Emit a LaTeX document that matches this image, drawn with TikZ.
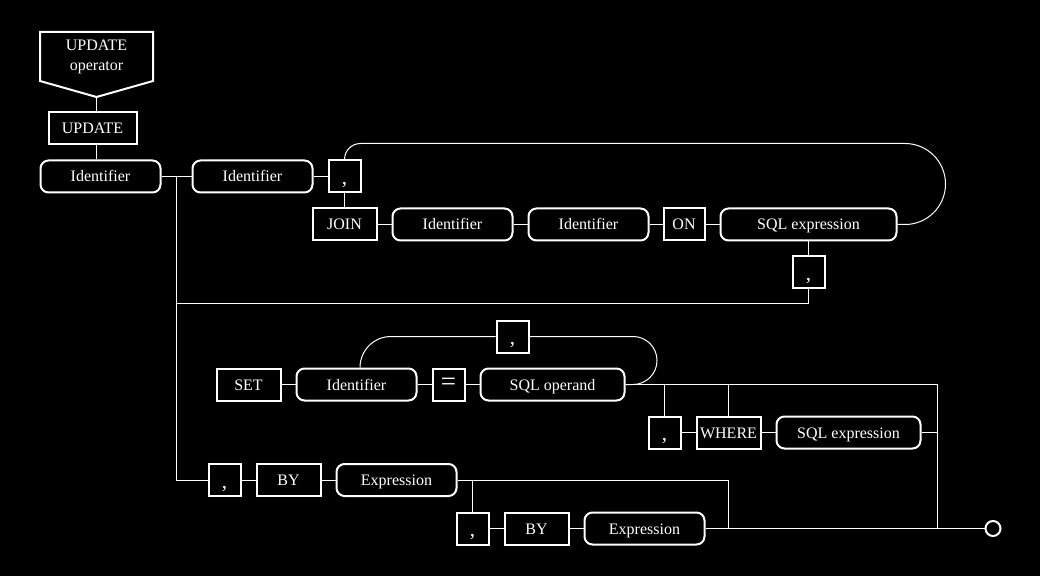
\documentclass[tikz,border=0pt]{standalone}
\usepackage{fontspec}
\setmainfont{Liberation Serif}
\usetikzlibrary{positioning}

\begin{document}
\begin{tikzpicture}[x=1pt, y=1pt, font=\fontsize{16}{20}\selectfont, every node/.style={text=white}, keyword/.style={rectangle, draw=white, line width=2pt, minimum height=32pt, inner sep=0pt, text height=13pt, text depth=2pt}, rule/.style={keyword, rounded corners=8pt}, punct/.style={keyword, minimum width=32pt, text height=16pt, text depth=0pt, font=\fontsize{21}{21}\selectfont}, line/.style={white, line width=1pt}]
\useasboundingbox (0,0) rectangle (1040,576);
\fill [black] (0,0) rectangle (1040,576);
\draw [white, line width=2pt] (40,544) -- (153,544) -- (153,495) -- (96.5,479) -- (40,495) -- cycle;
\node (start) [align=center] at (96.5,519) {UPDATE\\operator};
\coordinate (starttip) at (96.5,479);
\node (update) [keyword, minimum width=88pt] at (92.5,447.5) {UPDATE};
\node (id1) [rule, minimum width=120pt] at (100.5,399.5) {Identifier};
\node (id2) [rule, minimum width=120pt] at (252.5,399.5) {Identifier};
\node (comma1) [punct] at (344.5,399.5) {,};
\node (join) [keyword, minimum width=64pt] at (344.5,351.5) {JOIN};
\node (id3) [rule, minimum width=120pt] at (452.5,351.5) {Identifier};
\node (id4) [rule, minimum width=120pt] at (588.5,351.5) {Identifier};
\node (on) [keyword, minimum width=41pt] at (684,351.5) {ON};
\node (sqlexpr1) [rule, minimum width=176pt] at (808.5,351.5) {SQL expression};
\node (comma2) [punct] at (808.5,303.5) {,};
\node (set) [keyword, minimum width=64pt] at (248.5,191.5) {SET};
\node (id5) [rule, minimum width=120pt] at (356.5,191.5) {Identifier};
\node (equals) [keyword, minimum width=32pt, text height=, text depth=, font=\fontsize{27}{27}\selectfont] at (448.5,191.5) {=};
\node (operand) [rule, minimum width=144pt] at (552.5,191.5) {SQL operand};
\node (comma3) [punct] at (512.5,239.5) {,};
\node (comma4) [punct] at (664.5,143.5) {,};
\node (where) [keyword, minimum width=64pt] at (728.5,143.5) {WHERE};
\node (sqlexpr2) [rule, minimum width=144pt] at (848.5,143.5) {SQL expression};
\node (comma5) [punct] at (224.5,96) {,};
\node (by1) [keyword, minimum width=64pt] at (288.5,96) {BY};
\node (expr1) [rule, minimum width=120pt] at (396.5,96) {Expression};
\node (comma6) [punct] at (472.5,47.5) {,};
\node (by2) [keyword, minimum width=64pt] at (536.5,47.5) {BY};
\node (expr2) [rule, minimum width=120pt] at (644.5,47.5) {Expression};
\node (stop) [circle, draw=white, line width=2pt, minimum size=15pt, inner sep=0pt] at (993,47.5) {};
\coordinate (split1) at (176,399.5);
\coordinate (split2) at (176,96);
\coordinate (back1) at (176,272);
\coordinate (merge) at (937,47.5);
\coordinate (merge2) at (728,47.5);
\draw [line] (starttip) -- (starttip |- update.north);
\draw [line] (starttip |- update.south) -- (starttip |- id1.north);
\draw [line] (id1) -- (id2);
\draw [line] (id2) -- (comma1);
\draw [line] (split1) -- (split2) -- (comma5);
\draw [line] (comma1) -- (join);
\draw [line] (join) -- (id3);
\draw [line] (id3) -- (id4);
\draw [line] (id4) -- (on);
\draw [line] (on) -- (sqlexpr1);
\draw [line] (sqlexpr1) -- (comma2);
\draw [line] (comma2.south) |- (back1);
\draw [line] (comma1.north) arc[start angle=180, end angle=90, radius=16] -- (905,432.5) arc[start angle=90, end angle=-90, radius=40.5] -- (sqlexpr1.east);
\draw [line] (set) -- (id5);
\draw [line] (id5) -- (equals);
\draw [line] (equals) -- (operand);
\draw [line] ([xshift=3.5pt]id5.north) arc[start angle=180, end angle=90, radius=31] -- (comma3.west);
\draw [line] (comma3.east) -- (633,239.5) arc[start angle=90, end angle=-90, radius=24] -- (operand.east);
\draw [line] (operand.east) -| (merge);
\draw [line] (comma4.north) -- (comma4.north |- operand.east);
\draw [line] (where.north) -- (where.north |- operand.east);
\draw [line] (comma4) -- (where);
\draw [line] (where) -- (sqlexpr2);
\draw [line] (sqlexpr2.east) -- (sqlexpr2.east -| merge);
\draw [line] (comma5) -- (by1);
\draw [line] (by1) -- (expr1);
\draw [line] (expr1.east) -| (merge2);
\draw [line] (comma6.north |- expr1.east) -- (comma6.north);
\draw [line] (comma6) -- (by2);
\draw [line] (by2) -- (expr2);
\draw [line] (expr2) -- (stop);
\end{tikzpicture}
\end{document}
